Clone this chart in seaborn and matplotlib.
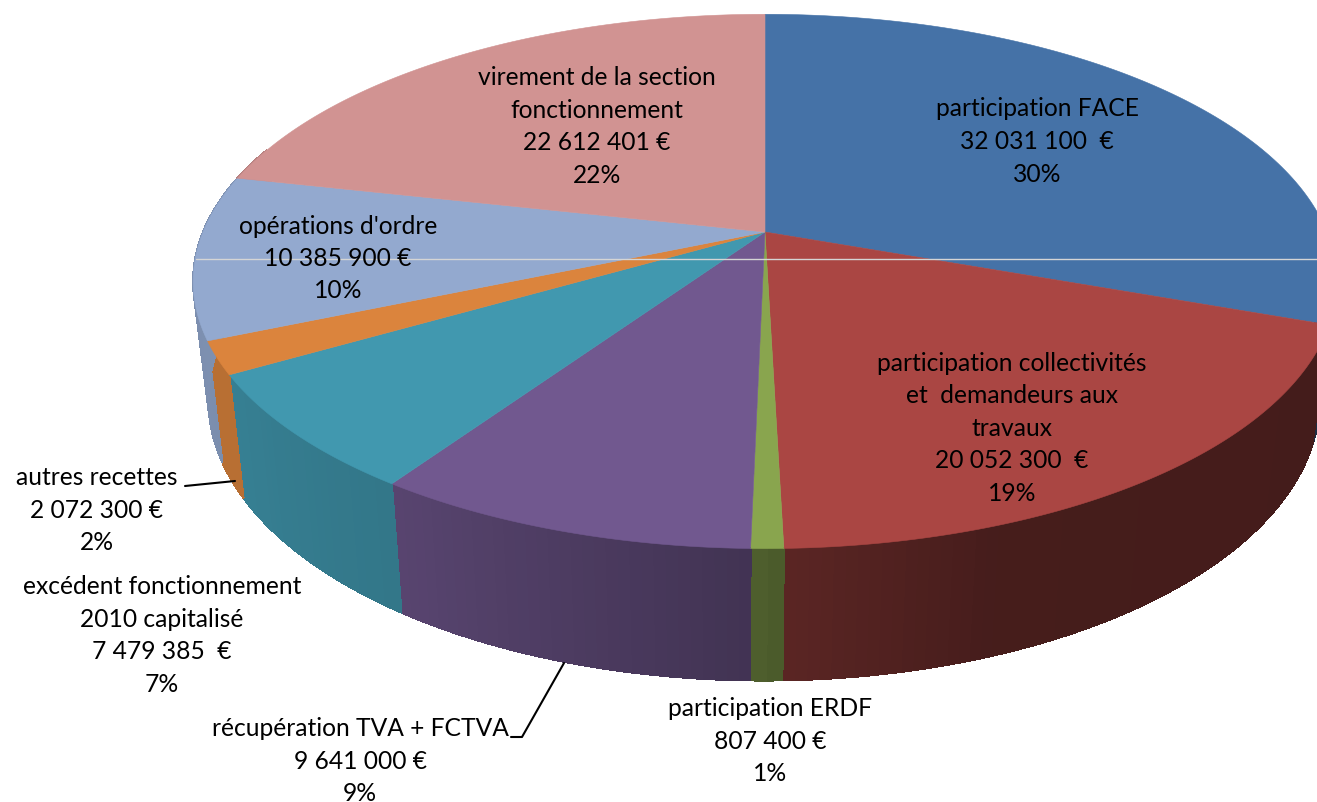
#!/usr/bin/env python3

import matplotlib.pyplot as plt
import numpy as np
import seaborn as sns

values = [32031100, 20052300, 807400, 9641000, 7479385, 2072300, 10385900, 22612401]
labels = [
    "participation FACE\n32 031 100  €\n30%",
    "participation collectivités\net  demandeurs aux\ntravaux\n20 052 300  €\n19%",
    "participation ERDF\n807 400 €\n1%",
    "récupération TVA + FCTVA\n9 641 000 €\n9%",
    "excédent fonctionnement\n2010 capitalisé\n7 479 385  €\n7%",
    "autres recettes\n2 072 300 €\n2%",
    "opérations d'ordre\n10 385 900 €\n10%",
    "virement de la section\nfonctionnement\n22 612 401 €\n22%",
]
colors = ["#4572A7", "#AA4643", "#89A54E", "#71588F", "#4198AF", "#DB843D", "#93A9CF", "#D19392"]
label_pos = [
    (1037, 141), (1012, 428), (770, 741), (360, 761),
    (162, 635), (97, 510), (338, 258), (597, 126),
]

# shading of the side wall, by angle from the top of the pie
shade_angle = [90, 110, 160, 178, 181, 214, 240, 250, 290]
shade_value = [0.40, 0.40, 0.41, 0.53, 0.58, 0.78, 0.84, 0.84, 0.87]


def project(theta, cx, cy, ax_x, ax_y, k=0.185):
    # circle seen in perspective, theta clockwise from the far side
    x, y = np.sin(theta), np.cos(theta)
    w = 1 + k * y
    return cx + ax_x * x / w, cy - ax_y * y / w


def top_ring(theta):
    return project(theta, 765, 233, 562, 258)


def low_ring(theta):
    x, y = project(theta, 764, 349, 546, 271)
    return x, np.minimum(y, 682)


sns.set_theme(style="white")
plt.rcParams["font.family"] = ["Lato", "DejaVu Sans"]
palette = sns.color_palette(colors)

fig = plt.figure(figsize=(13.17, 8.03), dpi=100)
ax = fig.add_axes([0, 0, 1, 1])
ax.set_xlim(0, 1317)
ax.set_ylim(803, 0)
ax.axis("off")

edges = np.radians(np.concatenate([[0], np.cumsum(values)]) / np.sum(values) * 360)

# side walls first, one thin strip per step so the shade can change
for i, color in enumerate(palette):
    steps = np.linspace(edges[i], edges[i + 1], max(3, int(np.degrees(edges[i + 1] - edges[i]))))
    for a, b in zip(steps[:-1], steps[1:]):
        mid = np.degrees((a + b) / 2)
        if mid < 90 or mid > 290:
            continue
        shade = np.interp(mid, shade_angle, shade_value)
        strip = np.array([a, b])
        tx, ty = top_ring(strip)
        lx, ly = low_ring(strip)
        c = tuple(v * shade for v in color)
        ax.fill(np.r_[tx, lx[::-1]], np.r_[ty, ly[::-1]], color=c, lw=0.8,
                antialiased=False, zorder=2)

# top face
for i, color in enumerate(palette):
    theta = np.linspace(edges[i], edges[i + 1], 120)
    x, y = top_ring(theta)
    ax.fill(np.r_[765, x], np.r_[233, y], color=color, lw=0.4, zorder=3)

# stray light line across the picture
ax.plot([196, 1317], [260, 260], color="#d5d5d5", lw=1, zorder=4)

# leader lines
ax.plot([185, 235], [487, 482], color="black", lw=1.5, zorder=5)
ax.plot([511, 522, 564], [738, 738, 664], color="black", lw=1.5, zorder=5)

# one text per line, matplotlib's own line spacing varies with the glyphs
for text, (x, y) in zip(labels, label_pos):
    lines = text.split("\n")
    for j, line in enumerate(lines):
        ax.text(x, y + (j - (len(lines) - 1) / 2) * 32.5 + 8, line, ha="center",
                va="baseline", fontsize=17.7, color="black", zorder=6)

fig.savefig("out.png", dpi=100)
